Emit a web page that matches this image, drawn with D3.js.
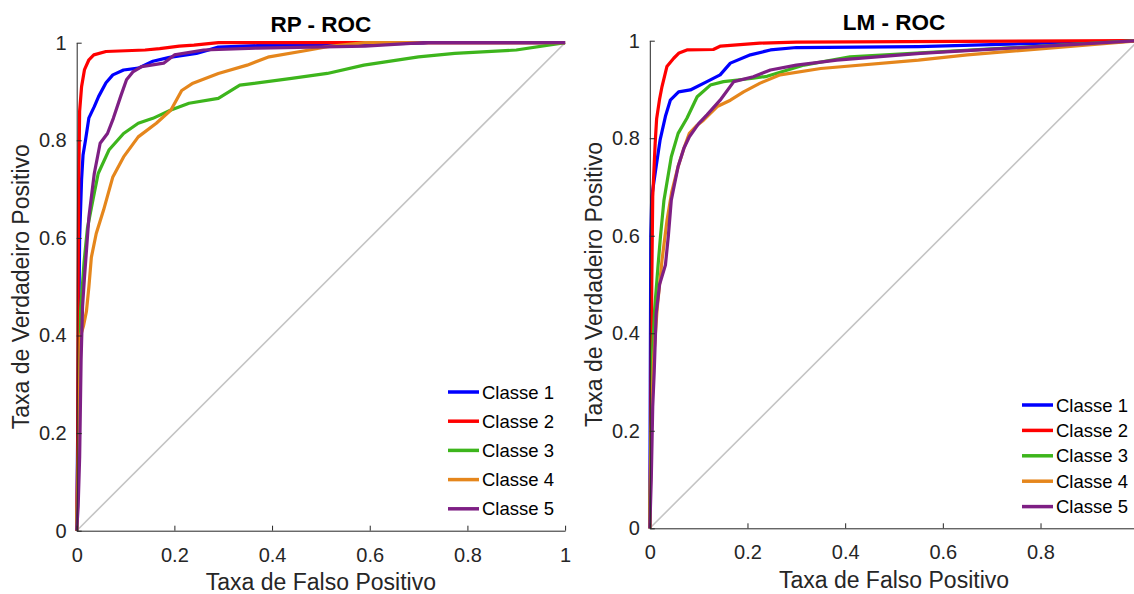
<!DOCTYPE html>
<html>
<head>
<meta charset="utf-8">
<script src="https://cdn.jsdelivr.net/npm/d3@7"></script>
<style>
  html, body { margin: 0; padding: 0; background: #fff; overflow: hidden; }
  svg { display: block; font-family: "Liberation Sans", Arial, Helvetica, sans-serif; }
  .axis path, .axis line { stroke: #262626; }
  .axis text { fill: #262626; font-size: 20px; }
</style>
</head>
<body>
<div class="js-vis"></div>
<script>
// ROC points: [taxa de falso positivo, taxa de verdadeiro positivo]
const classes = ["Classe 1", "Classe 2", "Classe 3", "Classe 4", "Classe 5"]
const ticks = [0, 0.2, 0.4, 0.6, 0.8, 1]

const rpClasse1 = [[0,0],[0.003,0.3],[0.006,0.6],[0.01,0.72],[0.013,0.77],[0.018,0.8],[0.025,0.846],[0.036,0.869],[0.045,0.89],[0.06,0.918],[0.074,0.934],[0.096,0.944],[0.126,0.948],[0.156,0.962],[0.19,0.97],[0.245,0.978],[0.29,0.991],[0.37,0.994],[0.71,0.999],[0.72,1],[1,1]]
const rpClasse2 = [[0,0],[0.002,0.15],[0.003,0.5],[0.004,0.7],[0.006,0.86],[0.01,0.91],[0.016,0.945],[0.025,0.965],[0.035,0.975],[0.06,0.982],[0.14,0.985],[0.17,0.988],[0.21,0.993],[0.24,0.995],[0.29,1],[1,1]]
const rpClasse3 = [[0,0],[0.003,0.1],[0.006,0.3],[0.008,0.45],[0.015,0.55],[0.022,0.62],[0.033,0.677],[0.044,0.732],[0.066,0.78],[0.096,0.814],[0.126,0.835],[0.156,0.845],[0.193,0.862],[0.23,0.876],[0.29,0.886],[0.334,0.913],[0.44,0.927],[0.513,0.937],[0.588,0.954],[0.7,0.971],[0.774,0.978],[0.9,0.985],[1,1]]
const rpClasse4 = [[0,0],[0.003,0.15],[0.006,0.3],[0.008,0.4],[0.014,0.42],[0.02,0.45],[0.025,0.5],[0.03,0.56],[0.04,0.609],[0.055,0.657],[0.074,0.725],[0.096,0.766],[0.126,0.807],[0.163,0.835],[0.193,0.862],[0.215,0.902],[0.238,0.917],[0.29,0.937],[0.349,0.954],[0.394,0.971],[0.476,0.985],[0.513,0.992],[0.59,1],[1,1]]
const rpClasse5 = [[0,0],[0.003,0.05],[0.006,0.15],[0.009,0.35],[0.012,0.46],[0.016,0.52],[0.025,0.643],[0.036,0.732],[0.048,0.794],[0.063,0.814],[0.075,0.845],[0.09,0.89],[0.102,0.924],[0.115,0.94],[0.133,0.951],[0.178,0.958],[0.2,0.975],[0.26,0.985],[0.37,0.989],[0.59,0.993],[0.71,1],[1,1]]

const lmClasse1 = [[0,0],[0.001,0.3],[0.002,0.6],[0.004,0.68],[0.013,0.742],[0.021,0.796],[0.032,0.845],[0.042,0.878],[0.059,0.895],[0.083,0.899],[0.117,0.916],[0.144,0.93],[0.165,0.954],[0.206,0.971],[0.247,0.981],[0.3,0.986],[0.55,0.988],[1,1]]
const lmClasse2 = [[0,0],[0.002,0.2],[0.004,0.5],[0.006,0.68],[0.011,0.79],[0.014,0.84],[0.02,0.88],[0.025,0.906],[0.035,0.947],[0.049,0.964],[0.06,0.975],[0.076,0.981],[0.13,0.982],[0.145,0.989],[0.225,0.995],[0.3,0.997],[1,1]]
const lmClasse3 = [[0,0],[0.002,0.15],[0.005,0.35],[0.01,0.45],[0.017,0.54],[0.022,0.6],[0.029,0.673],[0.044,0.762],[0.058,0.81],[0.076,0.841],[0.097,0.885],[0.124,0.909],[0.151,0.916],[0.212,0.923],[0.24,0.927],[0.316,0.95],[0.41,0.967],[1,1]]
const lmClasse4 = [[0,0],[0.003,0.2],[0.008,0.35],[0.015,0.45],[0.025,0.55],[0.035,0.63],[0.045,0.69],[0.058,0.742],[0.07,0.78],[0.081,0.81],[0.095,0.825],[0.11,0.837],[0.138,0.865],[0.165,0.878],[0.192,0.895],[0.226,0.913],[0.267,0.93],[0.35,0.943],[0.55,0.96],[0.65,0.971],[1,1]]
const lmClasse5 = [[0,0],[0.003,0.1],[0.006,0.25],[0.009,0.32],[0.013,0.44],[0.02,0.5],[0.032,0.54],[0.038,0.6],[0.044,0.673],[0.058,0.742],[0.07,0.78],[0.081,0.803],[0.1,0.83],[0.117,0.848],[0.144,0.878],[0.172,0.916],[0.212,0.926],[0.247,0.94],[0.3,0.95],[0.383,0.96],[0.554,0.974],[1,1]]

const colors = ["#0000ff", "#ff0000", "#3db51c", "#e5861c", "#7e1f84"]

const svg = d3.select(".js-vis").append("svg")
  .attr("width", 1134)
  .attr("height", 594)

const panels = [
  { title: "RP - ROC", curves: [rpClasse1, rpClasse2, rpClasse3, rpClasse4, rpClasse5],
    left: 76.7, top: 42.7, width: 488.4, height: 488, legX: 448, legY: 392, legStep: 29.2 },
  { title: "LM - ROC", curves: [lmClasse1, lmClasse2, lmClasse3, lmClasse4, lmClasse5],
    left: 649.8, top: 40.7, width: 488.4, height: 487.6, legX: 1022, legY: 405, legStep: 25.4 }
]

panels.forEach(p => {
  const x = d3.scaleLinear().domain([0, 1]).range([0, p.width])
  const y = d3.scaleLinear().domain([0, 1]).range([p.height, 0])

  const g = svg.append("g")
    .attr("transform", "translate(" + p.left + "," + p.top + ")")

  // diagonal reference
  g.append("line")
    .attr("x1", x(0)).attr("y1", y(0))
    .attr("x2", x(1)).attr("y2", y(1))
    .attr("stroke", "#c4c4c4")
    .attr("stroke-width", 1.6)

  const line = d3.line()
    .x(d => x(d[0]))
    .y(d => y(d[1]))

  g.selectAll(".roc")
    .data(p.curves)
  .enter().append("path")
    .attr("class", "roc")
    .attr("d", line)
    .attr("fill", "none")
    .attr("stroke", (d, i) => colors[i])
    .attr("stroke-width", 3.2)
    .attr("stroke-linejoin", "round")

  g.append("g")
    .attr("class", "axis")
    .attr("transform", "translate(0," + p.height + ")")
    .call(d3.axisBottom(x).tickValues(ticks).tickFormat(d3.format("~g"))
      .tickSizeInner(-5).tickSizeOuter(0).tickPadding(17))

  g.append("g")
    .attr("class", "axis")
    .call(d3.axisLeft(y).tickValues(ticks).tickFormat(d3.format("~g"))
      .tickSizeInner(-5).tickSizeOuter(0).tickPadding(10))

  svg.selectAll(".axis").attr("font-family", null).attr("font-size", null)

  // titles and axis labels
  g.append("text")
    .attr("x", p.width / 2)
    .attr("y", -10.5)
    .attr("text-anchor", "middle")
    .attr("font-size", 22.5)
    .attr("font-weight", "bold")
    .attr("fill", "#000")
    .text(p.title)

  g.append("text")
    .attr("x", p.width / 2)
    .attr("y", p.height + 59.5)
    .attr("text-anchor", "middle")
    .attr("font-size", 23)
    .attr("fill", "#262626")
    .text("Taxa de Falso Positivo")

  g.append("text")
    .attr("transform", "translate(-47.7," + (p.height / 2) + ") rotate(-90)")
    .attr("text-anchor", "middle")
    .attr("font-size", 23)
    .attr("fill", "#262626")
    .text("Taxa de Verdadeiro Positivo")

  // legend
  const leg = svg.append("g")
    .selectAll("g")
    .data(classes)
  .enter().append("g")
    .attr("transform", (d, i) => "translate(" + p.legX + "," + (p.legY + i * p.legStep) + ")")

  leg.append("line")
    .attr("x1", 0).attr("x2", 31)
    .attr("stroke", (d, i) => colors[i])
    .attr("stroke-width", 3.5)

  leg.append("text")
    .attr("x", 34)
    .attr("dy", "0.36em")
    .attr("font-size", 18.5)
    .attr("fill", "#000")
    .text(d => d)
})
</script>
</body>
</html>
